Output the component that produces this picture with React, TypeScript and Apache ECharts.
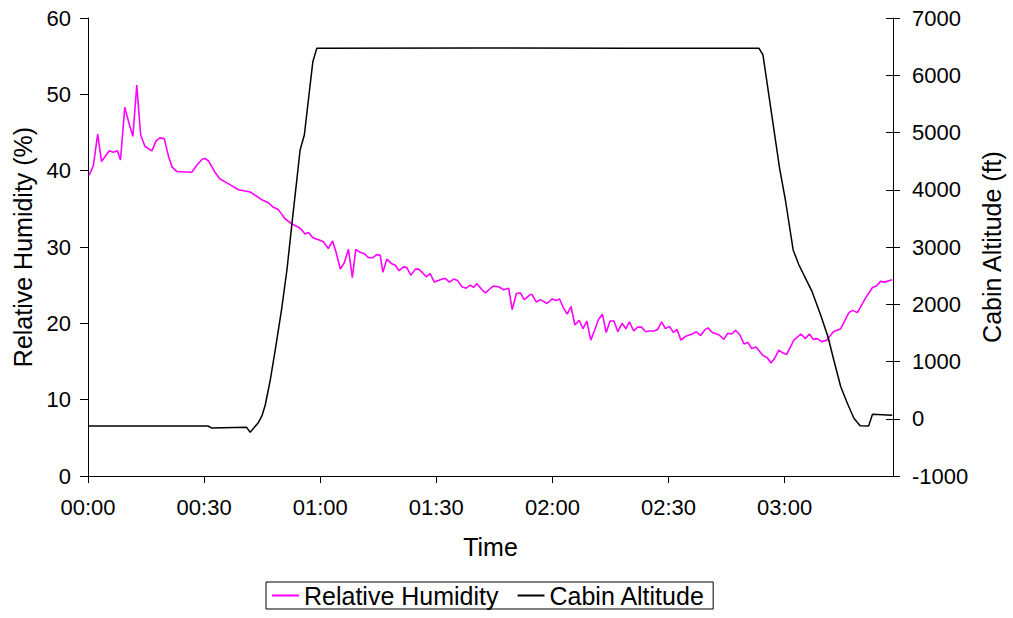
import React, { useEffect, useRef } from "react";
import * as echarts from "echarts";

// Time in minutes from 00:00
const timeTicks = [0, 30, 60, 90, 120, 150, 180];

// Relative Humidity (%) : [minute, value]
const humidity: [number, number][] = [
  [0.3, 39.4], [1.4, 40.7], [2.5, 44.8], [3.5, 41.2], [5.5, 42.6], [6.5, 42.4], [7.6, 42.6], [8.4, 41.4],
  [9.5, 48.3], [10.7, 46.0], [11.6, 44.5], [12.6, 51.2], [13.6, 44.7], [14.7, 43.2], [16.5, 42.6], [17.6, 43.9],
  [18.6, 44.3], [19.7, 44.2], [20.8, 41.9], [21.7, 40.5], [22.9, 39.9], [26.8, 39.8], [28.1, 40.7], [29.5, 41.5],
  [30.2, 41.6], [31.1, 41.3], [32.8, 39.8], [34.1, 38.9], [35.9, 38.4], [38.9, 37.5], [41.9, 37.2], [44.9, 36.2],
  [46.6, 35.8], [47.9, 35.2], [49.2, 34.9], [50.9, 33.7], [52.7, 33.0], [54.4, 32.6], [55.3, 32.2], [56.1, 31.7],
  [57.0, 31.9], [58.1, 31.2], [59.3, 31.0], [60.8, 30.7], [62.1, 29.8], [63.2, 30.8], [64.1, 29.3], [65.2, 27.1],
  [66.2, 27.9], [67.3, 29.7], [68.3, 26.0], [69.2, 29.7], [70.3, 29.3], [71.4, 29.1], [72.5, 28.6], [73.6, 28.6],
  [74.6, 29.0], [75.5, 28.9], [76.2, 26.7], [77.2, 28.4], [78.5, 27.8], [79.4, 27.6], [80.4, 26.9], [81.5, 27.4],
  [82.4, 27.3], [83.4, 26.3], [84.6, 27.1], [85.4, 27.1], [86.5, 26.6], [87.4, 26.1], [88.4, 26.5], [89.5, 25.4],
  [91.0, 25.7], [92.3, 25.9], [93.4, 25.4], [94.5, 25.8], [95.5, 25.6], [96.6, 24.8], [97.7, 24.6], [98.8, 25.0],
  [99.6, 24.7], [100.5, 25.2], [101.8, 24.4], [102.7, 24.0], [103.8, 24.5], [104.8, 24.9], [106.1, 24.8], [107.4, 24.4],
  [108.7, 24.6], [109.6, 21.8], [110.7, 23.9], [111.7, 24.0], [112.7, 23.1], [114.1, 23.7], [114.7, 23.8], [115.8, 22.8],
  [116.9, 23.1], [118.6, 22.6], [119.9, 23.2], [121.0, 23.0], [121.8, 23.2], [122.7, 22.2], [123.8, 21.2], [124.8, 22.2],
  [125.8, 19.8], [126.9, 20.4], [127.9, 19.3], [128.9, 20.3], [129.9, 17.8], [130.9, 19.1], [131.9, 20.5], [132.9, 21.2],
  [133.9, 18.8], [134.9, 20.3], [135.9, 20.3], [136.9, 18.9], [138.0, 20.0], [139.0, 19.3], [139.9, 20.2], [141.0, 19.0],
  [142.0, 19.5], [143.0, 19.5], [144.1, 18.9], [145.1, 19.0], [146.2, 19.0], [147.2, 19.2], [148.2, 20.2], [149.2, 19.3],
  [150.2, 19.6], [151.3, 18.8], [152.2, 19.2], [153.2, 17.8], [154.4, 18.3], [156.1, 18.6], [157.2, 18.9], [158.3, 18.4],
  [159.3, 19.1], [160.2, 19.4], [161.3, 18.8], [163.0, 18.5], [164.3, 17.9], [165.3, 18.7], [166.3, 18.6], [167.3, 19.1],
  [168.4, 18.5], [169.5, 17.3], [170.5, 17.5], [171.5, 16.7], [172.6, 16.9], [174.4, 15.8], [175.5, 15.5], [176.5, 14.8],
  [177.5, 15.5], [178.5, 16.5], [179.6, 16.1], [180.5, 15.9], [182.4, 17.8], [184.2, 18.6], [185.4, 18.0], [186.4, 18.6],
  [187.4, 17.9], [188.4, 18.0], [189.6, 17.6], [190.9, 17.8], [192.6, 18.9], [194.5, 19.3], [196.6, 21.4], [197.5, 21.7],
  [198.8, 21.4], [200.9, 23.3], [202.7, 24.7], [203.7, 24.9], [204.8, 25.5], [205.8, 25.4], [207.8, 25.7],
];

// Cabin Altitude (ft) : [minute, value]
const altitude: [number, number][] = [
  [0, -127], [31, -127], [31.9, -160], [41, -150], [41.9, -237], [44, -69], [45, 60], [45.8, 240],
  [47.1, 677], [48.5, 1250], [50, 1900], [51.4, 2598], [52.7, 3414], [54, 4200], [54.8, 4694], [55.9, 4956],
  [57, 5600], [58.1, 6237], [59.1, 6470], [100, 6475], [140, 6470], [173.4, 6470], [174.4, 6354], [176.5, 5388],
  [178.7, 4374], [180.2, 3821], [182.2, 2948], [183.7, 2686], [185.4, 2453], [187.1, 2220], [189.3, 1812], [191.2, 1433],
  [192.7, 1026], [194.5, 560], [196.2, 270], [197.9, 8], [199.5, -121], [201.7, -127], [202.7, 78], [207.8, 60],
];

const FONT = "'Liberation Sans', Arial, sans-serif";

function fmtTime(v: number): string {
  const h = Math.floor(v / 60);
  const m = Math.round(v % 60);
  return String(h).padStart(2, "0") + ":" + String(m).padStart(2, "0");
}

export default function App() {
  const ref = useRef<HTMLDivElement>(null);
  useEffect(() => {
    document.body.style.margin = "0";
    const chart = echarts.init(ref.current!, null, { renderer: "svg" });
    chart.setOption({
      animation: false,
      backgroundColor: "#fff",
      textStyle: { fontFamily: FONT, color: "#000" },
      grid: { left: 88, right: 120, top: 18, bottom: 142, containLabel: false, outerBoundsMode: "none" },
      legend: {
        left: 266,
        top: 582,
        orient: "horizontal",
        icon: "rect",
        itemWidth: 27,
        itemHeight: 2,
        itemGap: 19,
        padding: [1, 8, 1, 6],
        borderColor: "#000",
        borderWidth: 1,
        textStyle: { fontFamily: FONT, fontSize: 25, color: "#000" },
        data: ["Relative Humidity", "Cabin Altitude"],
      },
      xAxis: {
        type: "value",
        min: 0,
        max: 208,
        name: "Time",
        nameLocation: "middle",
        nameGap: 58,
        nameTextStyle: { fontFamily: FONT, fontSize: 25, color: "#000" },
        axisLine: { show: true, lineStyle: { color: "#000", width: 1 } },
        axisTick: { show: true, length: 7, lineStyle: { color: "#000" }, customValues: timeTicks },
        axisLabel: {
          customValues: timeTicks,
          formatter: (v: number) => fmtTime(v),
          fontFamily: FONT,
          fontSize: 22,
          color: "#000",
          margin: 20,
        },
        splitLine: { show: false },
      },
      yAxis: [
        {
          type: "value",
          position: "left",
          min: 0,
          max: 60,
          interval: 10,
          name: "Relative Humidity (%)",
          nameLocation: "middle",
          nameGap: 52,
          nameTextStyle: { fontFamily: FONT, fontSize: 25, color: "#000" },
          axisLine: { show: true, lineStyle: { color: "#000", width: 1 } },
          axisTick: { show: true, length: 8, lineStyle: { color: "#000" } },
          axisLabel: { fontFamily: FONT, fontSize: 22, color: "#000", margin: 17 },
          splitLine: { show: false },
        },
        {
          type: "value",
          position: "right",
          min: -1000,
          max: 7000,
          interval: 1000,
          name: "Cabin Altitude (ft)",
          nameLocation: "middle",
          nameGap: 86,
          nameTextStyle: { fontFamily: FONT, fontSize: 25, color: "#000" },
          axisLine: { show: true, lineStyle: { color: "#000", width: 1 } },
          axisTick: { show: true, length: 7, lineStyle: { color: "#000" } },
          axisLabel: {
            fontFamily: FONT,
            fontSize: 22,
            color: "#000",
            margin: 19,
            formatter: (v: number) => String(v),
          },
          splitLine: { show: false },
        },
        {
          type: "value",
          position: "right",
          min: -1000,
          max: 7000,
          interval: 1000,
          axisLine: { show: false },
          axisTick: { show: true, inside: true, length: 7, lineStyle: { color: "#000" } },
          axisLabel: { show: false },
          splitLine: { show: false },
        },
      ],
      series: [
        {
          name: "Relative Humidity",
          type: "line",
          yAxisIndex: 0,
          data: humidity,
          showSymbol: false,
          symbol: "none",
          lineStyle: { color: "#FF00FF", width: 1.6 },
          itemStyle: { color: "#FF00FF" },
        },
        {
          name: "Cabin Altitude",
          type: "line",
          yAxisIndex: 1,
          data: altitude,
          showSymbol: false,
          symbol: "none",
          lineStyle: { color: "#000", width: 1.5 },
          itemStyle: { color: "#000" },
        },
      ],
    });
    return () => chart.dispose();
  }, []);
  return <div ref={ref} style={{ width: 1013, height: 618 }} />;
}
